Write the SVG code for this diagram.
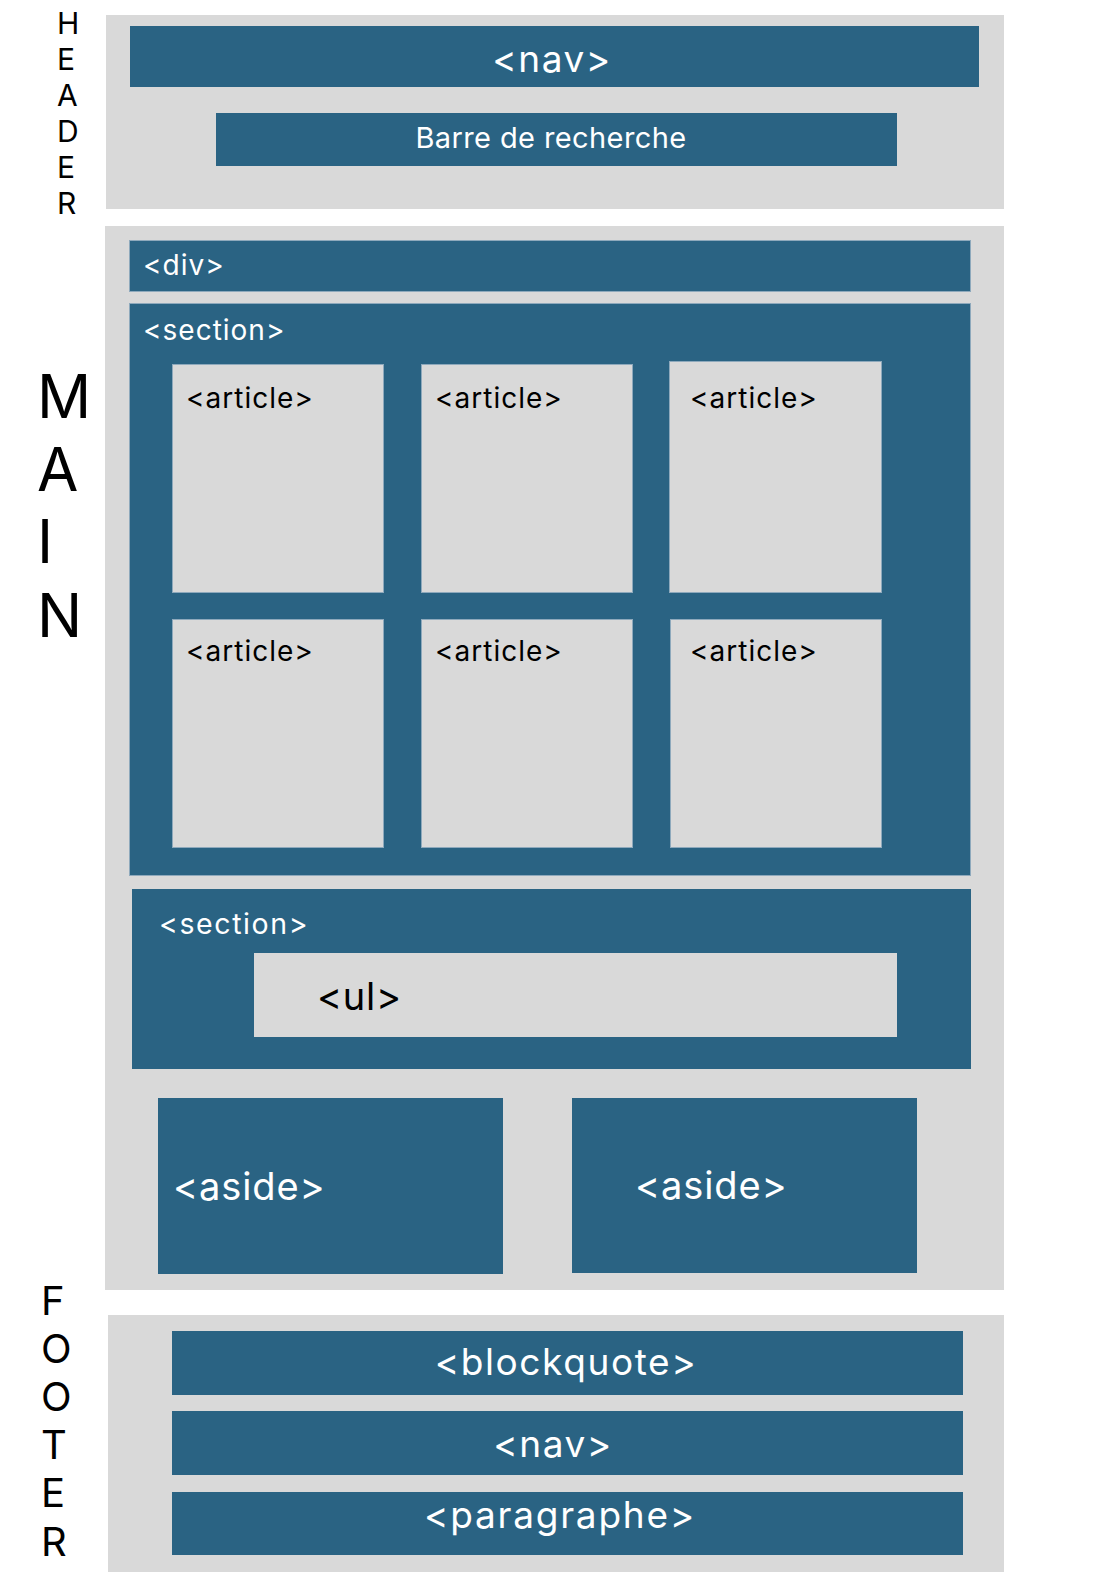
<svg xmlns="http://www.w3.org/2000/svg" width="1098" height="1588" viewBox="0 0 1098 1588">
<style>
.bg{fill:#d9d9d9}
.blue{fill:#2a6383}
.bl{fill:#2a6383;stroke:#8ea9bc;stroke-width:1}
.art{fill:#d9d9d9;stroke:#8ea9bc;stroke-width:1}
text{font-family:Inter,"Noto Sans","Liberation Sans",sans-serif}
.w{fill:#ffffff}
.k{fill:#000000}
.lab{fill:#000000;font-size:30px}
.a{font-size:28px;letter-spacing:1px}
</style>
<rect width="1098" height="1588" fill="#ffffff"/>
<g id="header">
<rect class="bg" x="106" y="15" width="898" height="194"/>
<text class="lab" x="57" y="34">H</text>
<text class="lab" x="57" y="70">E</text>
<text class="lab" x="57" y="106">A</text>
<text class="lab" x="57" y="142">D</text>
<text class="lab" x="57" y="178">E</text>
<text class="lab" x="57" y="214">R</text>
</g>
<g id="header-nav">
<rect class="blue" x="130" y="26" width="849" height="61"/>
<text class="w" x="552" y="72" font-size="37" letter-spacing="1.5" text-anchor="middle">&lt;nav&gt;</text>
</g>
<g id="search">
<rect class="blue" x="216" y="113" width="681" height="53"/>
<text class="w" x="551" y="148" font-size="29" letter-spacing="0.4" text-anchor="middle">Barre de recherche</text>
</g>
<g id="main">
<rect class="bg" x="105" y="226" width="899" height="1064"/>
<text class="k" x="37" y="418" font-size="60">M</text>
<text class="k" x="37" y="491" font-size="60">A</text>
<text class="k" x="37" y="563" font-size="60">I</text>
<text class="k" x="37" y="637" font-size="60">N</text>
</g>
<g id="div">
<rect class="bl" x="129.5" y="240.5" width="841" height="51"/>
<text class="w a" x="143" y="275">&lt;div&gt;</text>
</g>
<g id="section1">
<rect class="bl" x="129.5" y="303.5" width="841" height="572"/>
<text class="w a" x="143" y="340">&lt;section&gt;</text>
</g>
<g id="article1">
<rect class="art" x="172.5" y="364.5" width="211" height="228"/>
<text class="k a" x="186" y="408">&lt;article&gt;</text>
</g>
<g id="article2">
<rect class="art" x="421.5" y="364.5" width="211" height="228"/>
<text class="k a" x="435" y="408">&lt;article&gt;</text>
</g>
<g id="article3">
<rect class="art" x="669.5" y="361.5" width="212" height="231"/>
<text class="k a" x="690" y="408">&lt;article&gt;</text>
</g>
<g id="article4">
<rect class="art" x="172.5" y="619.5" width="211" height="228"/>
<text class="k a" x="186" y="661">&lt;article&gt;</text>
</g>
<g id="article5">
<rect class="art" x="421.5" y="619.5" width="211" height="228"/>
<text class="k a" x="435" y="661">&lt;article&gt;</text>
</g>
<g id="article6">
<rect class="art" x="670.5" y="619.5" width="211" height="228"/>
<text class="k a" x="690" y="661">&lt;article&gt;</text>
</g>
<g id="section2">
<rect class="blue" x="132" y="889" width="839" height="180"/>
<text class="w" x="159" y="934" font-size="28.5" letter-spacing="1.6">&lt;section&gt;</text>
</g>
<g id="ul">
<rect class="bg" x="254" y="953" width="643" height="84"/>
<text class="k" x="317" y="1010" font-size="38" letter-spacing="0.7">&lt;ul&gt;</text>
</g>
<g id="aside1">
<rect class="blue" x="158" y="1098" width="345" height="176"/>
<text class="w" x="173" y="1200" font-size="38" letter-spacing="0.9">&lt;aside&gt;</text>
</g>
<g id="aside2">
<rect class="blue" x="572" y="1098" width="345" height="175"/>
<text class="w" x="635" y="1199" font-size="38" letter-spacing="0.9">&lt;aside&gt;</text>
</g>
<g id="footer">
<rect class="bg" x="108" y="1315" width="896" height="257"/>
<text class="k" x="41" y="1315" font-size="40">F</text>
<text class="k" x="41" y="1363" font-size="40">O</text>
<text class="k" x="41" y="1411" font-size="40">O</text>
<text class="k" x="41" y="1459" font-size="40">T</text>
<text class="k" x="41" y="1507" font-size="40">E</text>
<text class="k" x="41" y="1556" font-size="40">R</text>
</g>
<g id="blockquote">
<rect class="blue" x="172" y="1331" width="791" height="64"/>
<text class="w" x="566" y="1375" font-size="37" letter-spacing="1.6" text-anchor="middle">&lt;blockquote&gt;</text>
</g>
<g id="footer-nav">
<rect class="blue" x="172" y="1411" width="791" height="64"/>
<text class="w" x="553" y="1457" font-size="37" letter-spacing="1.5" text-anchor="middle">&lt;nav&gt;</text>
</g>
<g id="paragraphe">
<rect class="blue" x="172" y="1492" width="791" height="63"/>
<text class="w" x="560" y="1528" font-size="37" letter-spacing="1.75" text-anchor="middle">&lt;paragraphe&gt;</text>
</g>
<g id="connectors"></g>
</svg>
